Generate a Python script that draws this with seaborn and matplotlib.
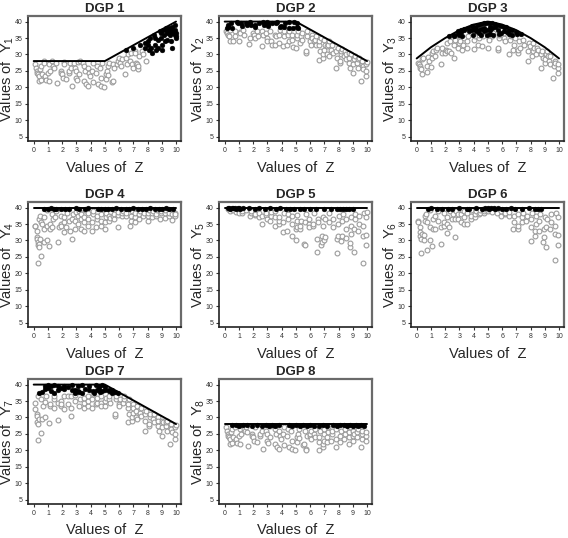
import matplotlib
matplotlib.use("Agg")
import matplotlib.pyplot as plt
import seaborn as sns

# ---------------- data ----------------
z_ticks = [0, 1, 2, 3, 4, 5, 6, 7, 8, 9, 10]
y_ticks = [5, 10, 15, 20, 25, 30, 35, 40]
titles = ["DGP 1", "DGP 2", "DGP 3", "DGP 4", "DGP 5", "DGP 6", "DGP 7", "DGP 8"]

front1_z = [0, 5, 10]; front1_y = [28, 28, 40]
front2_z = [0, 5, 10]; front2_y = [40, 40, 28]
front3_z = [0, 1, 2, 3, 4, 5, 6, 7, 8, 9, 10]
front3_y = [28.8, 32.2, 35.0, 37.4, 39.1, 40.0, 39.1, 37.4, 35.0, 32.2, 28.8]
front4_z = [0, 10]; front4_y = [40, 40]
front5_z = [0, 10]; front5_y = [40, 40]
front6_z = [0, 10]; front6_y = [40, 40]
front7_z = [0, 5, 10]; front7_y = [40, 40, 28]
front8_z = [0, 10]; front8_y = [28, 28]

gray1 = [(0.1,27),(0.15,26),(0.2,25),(0.25,24.5),(0.3,24),(0.35,22),(0.4,23.5),(0.45,25.5),(0.5,26.5),(0.5,22.3),(0.6,24),(0.7,28),(0.75,27.5),(0.8,23.5),(0.85,22.2),(1.0,24.5),(1.05,22),(1.1,27),(1.15,25),(1.3,28),(1.35,26.5),(1.45,26),(1.6,27.5),(1.65,21.3),(1.9,25),(1.95,24.5),(2.0,24),(2.05,23),(2.1,27.8),(2.15,27),(2.25,22.5),(2.45,24.5),(2.5,25),(2.55,27.5),(2.6,26),(2.7,20.5),(2.85,27.5),(2.9,26),(2.95,25),(3.0,23),(3.05,22.2),(3.1,27.8),(3.15,24),(3.25,28),(3.45,27.5),(3.5,26.5),(3.55,22),(3.6,25),(3.65,21),(3.8,20.5),(3.85,26),(3.9,24.5),(3.95,23.5),(4.1,25),(4.15,27.3),(4.2,21.5),(4.4,24.5),(4.45,26.5),(4.5,21),(4.65,26),(4.7,23),(4.75,20.5),(4.8,27.5),(4.95,20),(5.05,22.5),(5.1,24),(5.15,25),(5.2,26.5),(5.25,23.8),(5.3,27.5),(5.5,21.5),(5.55,22),(5.6,27),(5.65,26),(5.85,27),(5.9,28),(6.0,29),(6.05,27.5),(6.1,26.5),(6.2,28.5),(6.45,24),(6.5,29),(6.55,27),(6.6,30),(6.8,28),(6.85,30.5),(6.9,27),(6.95,26),(7.1,31),(7.15,30.5),(7.2,27.5),(7.25,27),(7.3,25.5),(7.35,26.5),(7.4,29.5),(7.6,31),(7.7,30),(7.9,28)]
black1 = [(6.5,31.5),(7.0,32),(7.5,33),(7.8,33.5),(7.85,32),(8.0,34),(8.05,33),(8.1,31.5),(8.2,35),(8.25,32),(8.3,30.5),(8.45,36),(8.5,35),(8.55,33),(8.6,31.5),(8.7,34.5),(8.75,32),(8.9,37),(8.92,36.5),(8.95,35),(9.0,33),(9.05,31.5),(9.1,37.5),(9.15,36),(9.2,34),(9.3,38),(9.32,37.5),(9.35,36.5),(9.4,34.5),(9.5,38),(9.55,37),(9.6,36),(9.62,34),(9.7,32),(9.72,38.5),(9.75,37),(9.78,36.5),(9.9,39),(9.92,37.5),(9.95,36),(9.97,35.5),(10.0,36.5),(10.0,35)]

gray2 = [(0.1,37),(0.15,36.5),(0.2,36),(0.3,35.5),(0.35,37.5),(0.4,34),(0.55,34),(0.7,37),(0.75,35.5),(1.0,34),(1.05,36.8),(1.1,36.5),(1.3,37.5),(1.35,36),(1.7,33.3),(1.75,35),(2.0,36.5),(2.05,36),(2.1,35),(2.3,37),(2.35,35.5),(2.6,32.5),(2.65,37),(2.7,36),(2.9,36.5),(2.95,35),(3.0,34),(3.2,37),(3.25,34),(3.3,33),(3.5,36),(3.55,32.8),(3.6,35.5),(3.8,33.5),(3.85,36),(3.9,37.3),(4.1,32.5),(4.15,35.5),(4.2,37),(4.4,33),(4.45,36),(4.5,34),(4.55,37),(4.7,36),(4.75,34.5),(4.8,32.3),(5.0,32),(5.05,35),(5.1,36),(5.15,37),(5.3,33.5),(5.35,35.5),(5.4,36.5),(5.45,34.5),(5.7,30.5),(5.72,31),(5.75,35.5),(5.8,37),(6.0,34),(6.05,33),(6.1,36),(6.15,35),(6.3,34),(6.35,34.5),(6.4,35.5),(6.45,33),(6.6,28.3),(6.62,33),(6.65,34),(6.7,31),(6.75,35),(6.9,29),(6.92,30),(6.95,31.5),(7.0,34.5),(7.05,33),(7.2,30),(7.22,32.5),(7.25,33),(7.3,34),(7.35,29.5),(7.5,31.5),(7.55,33),(7.6,30.5),(7.8,26),(7.85,31),(7.9,29),(7.95,32),(8.1,27.5),(8.12,28),(8.15,30),(8.2,31),(8.25,31.7),(8.4,29.5),(8.45,31),(8.5,28.5),(8.55,30),(8.7,30.5),(8.72,29),(8.75,27.5),(8.8,26),(8.85,30.3),(9.0,24.5),(9.05,27),(9.1,29),(9.12,28.5),(9.15,29.6),(9.3,27.5),(9.35,28.5),(9.4,26),(9.45,29),(9.6,22),(9.62,27),(9.65,28),(9.7,26.5),(9.75,25.5),(9.9,23.5),(9.92,25),(9.95,27),(9.97,27.6)]
black2 = [(0.15,38),(0.2,38.5),(0.25,39),(0.45,39.5),(0.5,38),(0.85,40),(0.9,39.5),(1.15,39.5),(1.2,38.7),(1.5,39.5),(1.55,39),(1.8,39.8),(1.85,39),(2.1,39),(2.15,38.3),(2.4,39.5),(2.7,39.8),(2.75,39),(3.0,40),(3.02,38.8),(3.05,39.3),(3.3,39.5),(3.6,39.5),(3.65,40),(3.9,38.5),(3.95,38.8),(4.2,38.5),(4.25,39.5),(4.5,40),(4.55,38.2),(4.8,38),(4.85,39.8),(5.05,39.5),(5.1,38.5),(5.15,38)]

gray3 = [(0.1,27.5),(0.15,27),(0.2,26.5),(0.25,26),(0.3,25.5),(0.35,24),(0.4,28.5),(0.45,29),(0.7,24.7),(0.75,26.5),(0.8,29.3),(0.85,28),(1.0,26.3),(1.05,29),(1.1,30.5),(1.15,31),(1.3,29.5),(1.35,31.5),(1.4,32),(1.7,27.2),(1.75,30.5),(1.8,32),(2.0,30.5),(2.05,31.5),(2.1,33.5),(2.15,31),(2.3,31),(2.35,34),(2.4,30.5),(2.6,28.8),(2.65,33),(2.7,34.5),(2.9,32),(2.95,33.5),(3.0,35.5),(3.05,34),(3.2,31.5),(3.25,33),(3.3,35),(3.5,32),(3.55,34),(3.6,35.5),(4.0,31.8),(4.05,34.5),(4.1,35.5),(4.3,33),(4.35,35),(4.4,36),(4.6,32.5),(4.65,35.5),(5.0,32),(5.05,35),(5.1,34.5),(5.15,36),(5.3,35.5),(5.35,36.5),(5.7,31.5),(5.72,32),(5.75,35),(5.8,36),(6.1,35),(6.15,36.5),(6.2,34),(6.5,30),(6.55,34.5),(6.6,35.5),(6.65,36),(6.8,31.5),(6.85,33),(6.9,35),(7.1,30.5),(7.15,31.5),(7.2,34),(7.25,32),(7.5,34.5),(7.55,33),(7.8,28),(7.85,31),(7.9,33.5),(7.95,32.5),(8.1,29.5),(8.15,33.5),(8.2,31),(8.25,32),(8.4,30),(8.45,32),(8.5,31.5),(8.7,25.8),(8.75,30),(8.8,31),(8.85,29),(9.0,27.5),(9.05,28.5),(9.1,30),(9.15,31),(9.2,29.5),(9.3,28),(9.35,27),(9.4,29.5),(9.6,23),(9.65,26.5),(9.7,28),(9.75,27.5),(9.9,24.5),(9.92,25.8),(9.95,27)]
black3 = [(2.3,35.5),(2.6,36),(2.65,35.5),(2.9,37),(2.92,36.5),(2.95,36),(3.1,37.5),(3.12,36.8),(3.15,35.7),(3.3,37.5),(3.35,37.9),(3.6,38.2),(3.65,37),(3.9,38.8),(3.92,37.3),(3.95,36),(4.1,38.5),(4.12,37.8),(4.15,37),(4.3,39),(4.32,37.5),(4.35,36.5),(4.5,39.4),(4.52,37.8),(4.55,35.8),(4.7,39.6),(4.72,38),(4.75,37),(4.9,39.7),(4.92,37.5),(4.95,36),(5.1,39.5),(5.12,38.5),(5.15,37.5),(5.18,36.2),(5.3,39.5),(5.32,38),(5.35,36),(5.5,39.3),(5.52,38.3),(5.7,39),(5.72,37.5),(5.75,36.2),(5.9,38.7),(5.92,36.5),(6.1,38.5),(6.12,37.2),(6.3,38.3),(6.32,36.7),(6.5,37.5),(6.52,36.2),(6.7,37.5),(6.72,36),(7.0,36.8),(7.05,36.3),(7.3,36.3)]

gray4 = [(0.1,34.5),(0.12,34.3),(0.2,31),(0.22,30.5),(0.25,33),(0.28,29.5),(0.3,28.5),(0.32,23.3),(0.35,29),(0.38,36.5),(0.4,28),(0.42,37.5),(0.45,30.5),(0.5,25.3),(0.52,35.5),(0.55,35),(0.7,29.5),(0.72,33.5),(0.75,37),(0.9,30),(0.92,39.3),(0.95,34.5),(1.1,28.2),(1.12,33.5),(1.15,35),(1.3,34),(1.32,38),(1.35,36.5),(1.5,37),(1.55,39),(1.7,29.5),(1.75,34),(1.9,35),(1.92,34.5),(1.95,37.5),(2.1,32.5),(2.12,35.5),(2.15,37),(2.3,34),(2.35,38.5),(2.5,36),(2.55,33),(2.7,30.5),(2.72,36.5),(2.75,38),(2.9,33.5),(2.92,36),(2.95,38.8),(3.1,35),(3.12,37.5),(3.15,39),(3.3,33.5),(3.32,36.5),(3.35,38),(3.5,33),(3.52,35.5),(3.55,37),(3.58,39.3),(3.8,34.5),(3.82,36.5),(3.85,38.5),(4.1,33),(4.12,35.5),(4.15,38),(4.18,39),(4.4,34),(4.42,36.5),(4.45,37.5),(4.7,34.5),(4.72,36),(4.75,38),(5.0,33.5),(5.02,35.5),(5.05,37),(5.08,38.5),(5.3,36),(5.32,37.5),(5.35,36.8),(5.6,37.5),(5.62,38),(5.65,36.5),(5.9,34),(5.92,37.8),(5.95,38.8),(6.2,37.5),(6.22,38.5),(6.25,39),(6.5,37.5),(6.52,38.3),(6.8,34.5),(6.82,36),(6.85,37.5),(6.88,39),(7.1,35.5),(7.12,37),(7.15,38.5),(7.4,36.5),(7.42,38),(7.45,39),(7.7,37.5),(7.72,38.5),(8.0,36),(8.02,37.5),(8.05,38.5),(8.08,39.3),(8.3,37),(8.32,38.5),(8.35,39),(8.6,37.5),(8.62,38),(8.65,39.2),(8.9,36.5),(8.92,38.5),(8.95,39),(9.2,36.8),(9.22,38.5),(9.25,39.2),(9.5,37.5),(9.52,38.5),(9.7,36.3),(9.72,38),(9.9,37.5),(9.92,38.5),(9.95,38)]
black4 = [(0.7,39.7),(1.0,39.6),(1.2,39.8),(1.4,39.6),(1.6,39.7),(1.9,39.5),(2.2,39.7),(2.5,39.6),(3.0,39.8),(3.2,39.5),(3.6,39.7),(3.8,39.8),(4.5,39.7),(4.7,39.6),(5.0,39.5),(5.2,39.7),(5.5,39.6),(5.8,39.8),(6.1,39.5),(6.5,39.7),(6.7,39.6),(7.0,39.8),(7.3,39.5),(7.6,39.7),(7.9,39.6),(8.2,39.8),(8.5,39.5),(8.8,39.7),(9.0,39.6),(9.3,39.8),(9.5,39.5),(9.8,39.7)]

gray5 = [(0.2,39.5),(0.4,39),(0.6,39.3),(0.8,38.8),(1.0,38.5),(1.2,38.5),(1.25,39),(1.5,39.3),(1.8,37.5),(1.82,38.5),(1.85,39),(2.1,37.8),(2.12,38.2),(2.4,37),(2.42,38.5),(2.6,35),(2.62,37.5),(2.9,37.8),(2.92,38.5),(2.95,36.5),(3.2,36),(3.22,37.5),(3.25,38.8),(3.5,34.5),(3.52,37),(3.55,39),(3.8,35),(3.82,36),(3.85,37),(4.1,32.5),(4.12,35.5),(4.15,38.5),(4.4,32.8),(4.42,36.5),(4.45,38),(4.7,31.5),(4.72,35),(4.75,37.5),(5.0,30),(5.02,33.5),(5.05,34),(5.08,36),(5.1,37.8),(5.3,33.5),(5.32,34.5),(5.35,35.8),(5.6,29),(5.62,28.5),(5.65,35.5),(5.68,38),(5.9,35),(5.92,34),(5.95,36.5),(6.2,34.5),(6.22,35),(6.25,38.5),(6.5,26.5),(6.52,30.5),(6.55,36.5),(6.58,35.5),(6.8,28.5),(6.82,29.5),(6.85,31.5),(6.88,37),(6.9,34.5),(7.0,30),(7.02,31),(7.05,36.5),(7.3,35.5),(7.32,38.5),(7.6,34),(7.62,36.5),(7.9,26.2),(7.92,30.5),(7.95,31.5),(7.98,35),(8.0,37.5),(8.2,29.8),(8.22,31.5),(8.25,36),(8.28,38),(8.5,33.5),(8.52,30.8),(8.55,36.5),(8.8,28),(8.82,29.3),(8.85,32),(8.88,34.5),(8.9,37),(9.1,26.5),(9.12,33.5),(9.15,36.5),(9.18,38),(9.4,33),(9.42,35),(9.45,37.5),(9.7,23.3),(9.72,31.5),(9.75,34.5),(9.78,38.5),(9.9,28.5),(9.92,31.8),(9.95,37),(9.97,38.8)]
black5 = [(0.2,39.8),(0.3,40),(0.4,39.7),(0.5,39.9),(0.6,39.8),(0.7,40),(0.8,39.7),(0.9,39.9),(1.0,39.8),(1.1,39.7),(1.3,39.9),(1.7,39.8),(2.1,39.7),(2.4,39.8),(2.8,39.7),(3.2,39.8),(3.6,39.7),(3.9,39.8),(4.3,39.6),(4.6,39.7),(4.9,39.6),(5.3,39.7),(5.6,39.6),(6.0,39.7),(6.4,39.6),(7.0,39.7),(7.5,39.6),(7.9,39.7),(8.1,39.5),(8.3,39.6),(8.5,39.5),(8.7,39.7),(9.0,39.6)]

gray6 = [(0.1,36),(0.12,35.5),(0.2,34),(0.22,32.5),(0.25,31.5),(0.3,26.3),(0.32,30.5),(0.35,32),(0.5,30),(0.52,31.8),(0.55,37.5),(0.6,36),(0.62,38),(0.7,27),(0.72,35.5),(0.9,30),(0.92,34),(0.95,39.3),(1.1,28.3),(1.12,33.5),(1.15,36.5),(1.3,33.5),(1.32,37.5),(1.5,36),(1.52,39),(1.7,29),(1.72,34),(1.9,34.5),(1.92,35.5),(1.95,38.5),(2.1,32.3),(2.12,35),(2.15,37),(2.3,34),(2.32,39),(2.5,36.5),(2.52,38),(2.7,31),(2.72,36.5),(2.75,39),(2.9,36.5),(2.92,38),(3.1,35.5),(3.12,38),(3.15,39.3),(3.3,35),(3.32,37),(3.35,39),(3.5,35),(3.52,38.5),(3.8,36.5),(3.82,37.5),(3.85,39.2),(4.1,37),(4.12,38),(4.15,39),(4.4,38),(4.42,38.5),(4.45,39.3),(4.7,38.5),(4.72,39),(4.75,39.5),(5.0,39),(5.02,39.5),(5.3,39.2),(5.32,38.8),(5.6,39.3),(5.62,38.5),(5.9,37.5),(5.92,39),(6.2,38),(6.22,38.5),(6.5,37.5),(6.52,38.8),(6.8,33.5),(6.82,35.5),(6.85,37.5),(7.1,33.5),(7.12,34.5),(7.15,38),(7.4,35.5),(7.42,37),(7.45,38.5),(7.7,36),(7.72,37.5),(8.0,29.8),(8.02,34),(8.05,36.5),(8.08,38.5),(8.3,31.5),(8.32,33),(8.35,35),(8.38,37.5),(8.6,33),(8.62,36),(8.65,38),(8.9,29.5),(8.92,31),(8.95,33.5),(8.98,37),(9.1,28),(9.12,34),(9.15,36.5),(9.4,33.5),(9.42,35.5),(9.45,38),(9.7,24),(9.72,32),(9.75,34.5),(9.78,38.5),(9.9,28.5),(9.92,31.8),(9.95,37)]
black6 = [(0.8,39.7),(1.0,39.8),(1.4,39.6),(1.8,39.7),(2.2,39.5),(2.5,39.7),(3.0,39.8),(3.5,39.6),(3.7,39.7),(4.2,39.8),(4.6,39.6),(4.8,39.8),(5.0,39.9),(5.1,39.7),(5.2,39.8),(5.4,39.9),(5.5,39.6),(5.7,39.8),(6.0,39.7),(6.3,39.6),(6.6,39.8),(6.9,39.5),(7.4,39.7),(7.9,39.8),(8.3,39.6),(8.5,39.7),(8.7,39.6)]

gray7 = [(0.1,34.5),(0.12,32.5),(0.2,31),(0.22,30.5),(0.25,28.5),(0.28,36.5),(0.3,28),(0.32,23.3),(0.35,29.5),(0.5,25.3),(0.52,35.5),(0.6,29.5),(0.62,33.5),(0.8,30),(0.82,34.8),(0.85,36.5),(1.1,28.3),(1.12,33.5),(1.15,34),(1.4,33),(1.42,35.5),(1.45,36.5),(1.7,29.3),(1.72,34.5),(1.9,35),(1.92,33.5),(1.95,34.2),(2.1,32.5),(2.12,36.5),(2.4,34),(2.42,36.5),(2.6,30.5),(2.62,33),(2.65,36.5),(2.9,35),(2.92,36.8),(3.2,33.5),(3.22,35.5),(3.5,33),(3.52,34.5),(3.55,36),(3.8,33.5),(3.82,35),(3.85,36.5),(4.1,33),(4.12,35.5),(4.15,37),(4.4,34),(4.42,34.5),(4.45,36),(4.7,34.5),(4.72,33.5),(4.75,36.5),(5.0,33.5),(5.02,35),(5.05,36),(5.3,35.5),(5.32,36.5),(5.35,34.5),(5.7,30.5),(5.72,31),(5.75,35.5),(5.78,36.5),(6.0,34),(6.02,33.5),(6.05,35.5),(6.3,34.5),(6.32,35.5),(6.35,36.5),(6.6,28.5),(6.62,33),(6.65,34),(6.68,31),(6.7,35.5),(6.9,29),(6.92,30),(6.95,31.5),(6.98,34),(7.0,33),(7.2,30),(7.22,32),(7.25,33.5),(7.28,29.5),(7.5,31.5),(7.52,33),(7.55,30.5),(7.8,26),(7.82,31),(7.85,29),(7.88,32),(8.1,27.5),(8.12,28),(8.15,30),(8.18,31),(8.4,29.5),(8.42,31),(8.45,28.5),(8.7,30.3),(8.72,29),(8.75,27.5),(8.78,26),(9.0,24.5),(9.02,27),(9.05,29),(9.08,28.5),(9.3,27.5),(9.32,28.5),(9.35,26),(9.38,29),(9.6,22),(9.62,27),(9.65,28),(9.68,26.5),(9.7,25.5),(9.9,23.5),(9.92,25),(9.95,27),(9.97,27.6)]
black7 = [(0.4,37.5),(0.6,37.8),(0.8,39.5),(0.82,38.8),(1.0,39.8),(1.02,39),(1.2,39.5),(1.22,38),(1.4,39.8),(1.42,37.5),(1.7,39.5),(1.72,38.5),(1.9,39),(2.1,39.5),(2.12,38.8),(2.4,39.3),(2.7,39.8),(2.72,38.5),(2.9,38.5),(2.92,37.5),(3.1,39.5),(3.12,38.2),(3.15,37.7),(3.4,39.8),(3.42,37.5),(3.6,38.8),(3.9,39.5),(3.92,38.5),(4.2,38),(4.22,37.5),(4.4,39.8),(4.42,38.3),(4.6,39.5),(4.62,38.8),(4.65,37.8),(4.8,39.8),(4.82,38),(5.0,39.2),(5.02,38.5),(5.3,38.5),(5.32,38),(5.5,38.3),(5.52,37.5),(5.7,37.8),(5.9,37.3)]

gray8 = [(0.1,27),(0.15,26),(0.2,25),(0.25,24.5),(0.3,24),(0.35,22),(0.4,23.5),(0.45,25.5),(0.5,26.5),(0.5,22.3),(0.6,24),(0.75,27),(0.8,23.5),(0.85,22.2),(1.0,24.5),(1.05,22),(1.1,26.5),(1.15,25),(1.35,26.5),(1.45,26),(1.5,27),(1.6,25.5),(1.65,21.3),(1.9,25),(1.95,24.5),(2.0,24),(2.05,23),(2.1,27),(2.25,22.5),(2.45,24.5),(2.5,25),(2.6,26),(2.7,20.5),(2.9,26),(2.95,25),(3.0,23),(3.05,22.2),(3.15,24),(3.2,27.3),(3.5,26.5),(3.55,22),(3.6,25),(3.65,21),(3.8,20.5),(3.85,26),(3.9,24.5),(3.95,23.5),(4.1,25),(4.15,27),(4.2,21.5),(4.4,24.5),(4.45,26.5),(4.5,21),(4.65,26),(4.7,23),(4.75,20.5),(4.95,20),(5.05,22.5),(5.1,24),(5.15,25),(5.2,26.5),(5.25,23.8),(5.5,21.5),(5.55,22),(5.65,26),(5.7,20.5),(5.72,20),(5.75,24.5),(6.0,24.5),(6.02,25),(6.05,26),(6.08,23.5),(6.3,25),(6.32,26.5),(6.35,24),(6.6,20),(6.62,22.5),(6.65,24),(6.68,26),(6.9,21),(6.92,22),(6.95,23),(6.98,25),(7.0,26.5),(7.2,22.5),(7.22,24),(7.25,25.5),(7.28,27),(7.5,23),(7.52,25),(7.55,26),(7.8,21),(7.82,23.5),(7.85,26.5),(8.1,22.5),(8.12,24.5),(8.15,26),(8.4,23.5),(8.42,25),(8.45,26.5),(8.7,22),(8.72,24),(8.75,25.5),(8.78,27),(9.0,23),(9.02,26),(9.05,24.5),(9.08,25),(9.3,24),(9.32,25.5),(9.35,26.5),(9.6,21),(9.62,23.5),(9.65,25),(9.68,26),(9.9,23),(9.92,24.5),(9.95,25.5)]
black8 = [(0.5,27.6),(0.8,27.7),(1.0,27.5),(1.3,27.8),(1.6,27.6),(1.9,27.4),(2.3,27.7),(2.6,27.5),(2.9,27.6),(3.1,27.3),(3.3,27.7),(3.5,27.5),(3.8,27.8),(4.5,27.6),(4.7,27.4),(5.0,27.7),(5.3,27.5),(5.5,27.6),(5.8,27.4),(6.0,27.7),(6.3,27.5),(6.6,27.3),(6.9,27.6),(7.2,27.5),(7.6,27.7),(7.9,27.4),(8.1,27.6),(8.4,27.8),(8.6,27.5),(8.8,27.7),(9.0,27.3),(9.2,27.6),(9.4,27.4),(9.6,27.7),(9.8,27.5)]

panels = [
    (gray1, black1, front1_z, front1_y),
    (gray2, black2, front2_z, front2_y),
    (gray3, black3, front3_z, front3_y),
    (gray4, black4, front4_z, front4_y),
    (gray5, black5, front5_z, front5_y),
    (gray6, black6, front6_z, front6_y),
    (gray7, black7, front7_z, front7_y),
    (gray8, black8, front8_z, front8_y),
]

# ---------------- style ----------------
sns.set_style("white")
plt.rcParams['font.family'] = ['Liberation Sans', 'DejaVu Sans']
plt.rcParams['mathtext.fontset'] = 'custom'
plt.rcParams['mathtext.rm'] = 'Liberation Sans'
plt.rcParams['mathtext.it'] = 'Liberation Sans'

W, H = 568, 538
fig = plt.figure(figsize=(W / 100, H / 100), dpi=100)
col_left = [28, 219, 411]
row_top = [16, 202, 379]
aw, ah = 153, 125

for i, (gray, black, fz, fy) in enumerate(panels):
    r, c = divmod(i, 3)
    ax = fig.add_axes([col_left[c] / W, 1 - (row_top[r] + ah) / H, aw / W, ah / H])
    gz = [p[0] for p in gray]; gy = [p[1] for p in gray]
    bz = [p[0] for p in black]; by = [p[1] for p in black]
    sns.scatterplot(x=gz, y=gy, ax=ax, marker='o', s=12, facecolors='white',
                    edgecolor='#9c9c9c', linewidth=0.8, zorder=2)
    sns.scatterplot(x=bz, y=by, ax=ax, marker='o', s=12, color='black',
                    edgecolor='black', linewidth=0.3, zorder=3)
    sns.lineplot(x=fz, y=fy, ax=ax, color='black', linewidth=1.4, sort=False,
                 estimator=None, zorder=4)
    ax.set_xlim(-0.4, 10.35)
    ax.set_ylim(3.7, 41.7)
    ax.set_xticks(z_ticks)
    ax.set_yticks(y_ticks)
    ax.tick_params(axis='both', labelsize=5, length=2, width=0.8, pad=2,
                   colors='#333333', direction='out')
    ax.tick_params(left=True, bottom=True)
    for side in ['left', 'bottom']:
        ax.spines[side].set_color('#222222')
        ax.spines[side].set_linewidth(1.2)
    for side in ['top', 'right']:
        ax.spines[side].set_color('#6a6a6a')
        ax.spines[side].set_linewidth(1.6)
    ax.set_title(titles[i], fontsize=9.5, fontweight='bold', pad=3)
    ax.set_xlabel("Values of  Z", fontsize=10.5, labelpad=5)
    ax.set_ylabel("Values of  Y$_{%d}$" % (i + 1), fontsize=10.5)
    ax.yaxis.set_label_coords(-12 / aw, 0.5)

fig.savefig("out.png", dpi=100)
